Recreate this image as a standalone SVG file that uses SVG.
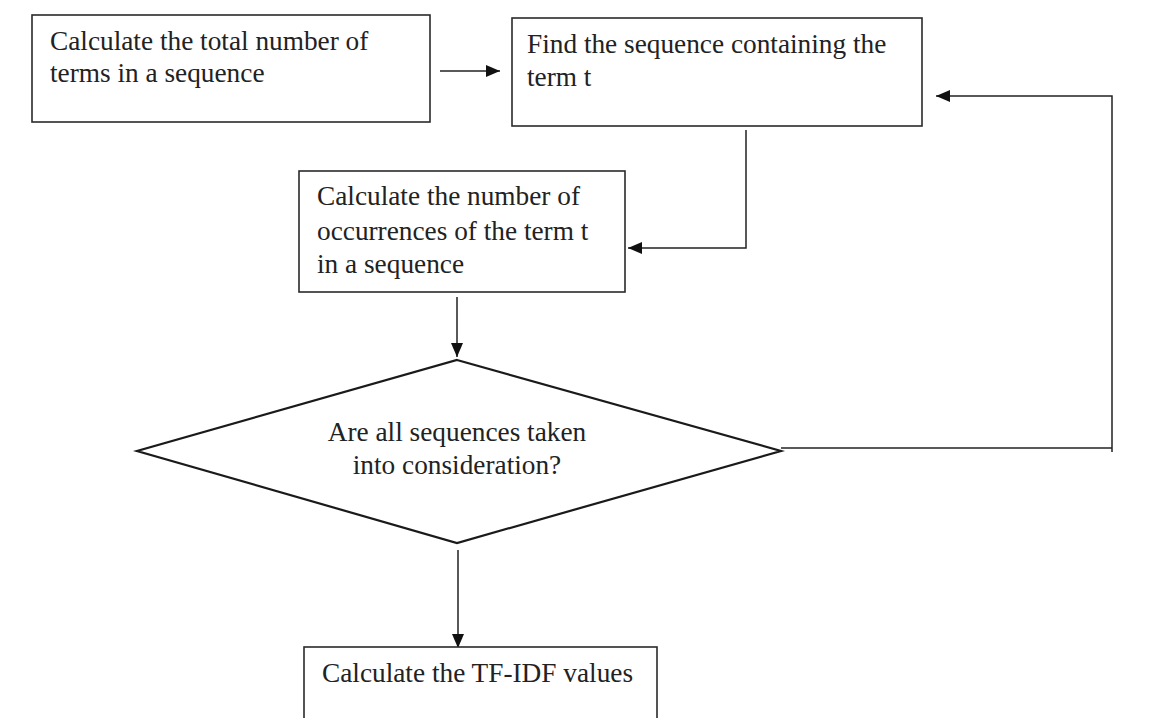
<svg xmlns="http://www.w3.org/2000/svg" width="1158" height="718" viewBox="0 0 1158 718">
<style>
.box{fill:#fff;stroke:#2a2a2a;stroke-width:1.6}
.dia{fill:#fff;stroke:#1a1a1a;stroke-width:2.2}
.t{font-family:"Liberation Serif","Times New Roman",serif;font-size:27.3px;fill:#222}
.c{text-anchor:middle}
.ln{fill:none;stroke:#222;stroke-width:1.5}
</style>
<defs>
<marker id="ah" viewBox="0 0 14 12" refX="14" refY="6" markerWidth="14" markerHeight="12" markerUnits="userSpaceOnUse" orient="auto">
<path d="M0,0 L14,6 L0,12 Z" fill="#111"/>
</marker>
</defs>
<rect width="1158" height="718" fill="#fff"/>
<g id="connectors">
<line class="ln" x1="440" y1="71" x2="500" y2="71" marker-end="url(#ah)"/>
<polyline class="ln" points="746,130 746,248 628,248" marker-end="url(#ah)"/>
<line class="ln" x1="457" y1="297" x2="457" y2="357" marker-end="url(#ah)"/>
<polyline class="ln" points="781,448 1112,448"/>
<polyline class="ln" points="1112,452 1112,96 936,96" marker-end="url(#ah)"/>
<line class="ln" x1="458" y1="550" x2="458" y2="648" marker-end="url(#ah)"/>
</g>
<g id="n1">
<rect class="box" x="32" y="15" width="398" height="107"/>
<text class="t" x="50" y="50">Calculate the total number of</text>
<text class="t" x="50" y="82">terms in a sequence</text>
</g>
<g id="n2">
<rect class="box" x="512" y="18" width="410" height="108"/>
<text class="t" x="527" y="53">Find the sequence containing the</text>
<text class="t" x="527" y="86">term t</text>
</g>
<g id="n3">
<rect class="box" x="299" y="171" width="326" height="121"/>
<text class="t" x="317" y="205">Calculate the number of</text>
<text class="t" x="317" y="240">occurrences of the term t</text>
<text class="t" x="317" y="273">in a sequence</text>
</g>
<g id="n4">
<polygon class="dia" points="457,360 781,451 457,543 137,451"/>
<text class="t c" x="457" y="441">Are all sequences taken</text>
<text class="t c" x="457" y="474">into consideration?</text>
</g>
<g id="n5">
<rect class="box" x="304" y="647" width="353" height="80"/>
<text class="t" x="322" y="682">Calculate the TF-IDF values</text>
</g>
</svg>
